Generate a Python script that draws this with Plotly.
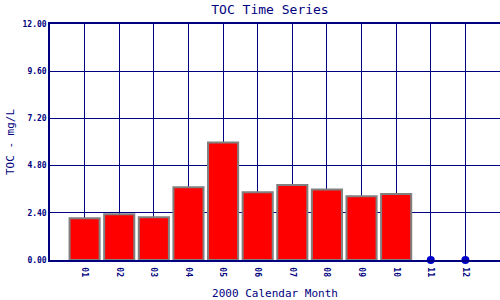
import plotly.graph_objects as go

months = [1, 2, 3, 4, 5, 6, 7, 8, 9, 10]
toc_values = [2.12, 2.32, 2.17, 3.70, 5.98, 3.44, 3.81, 3.59, 3.24, 3.36]
missing_months = [11, 12]
missing_values = [0, 0]
tick_vals = list(range(1, 13))
tick_text = ["01", "02", "03", "04", "05", "06", "07", "08", "09", "10", "11", "12"]
y_ticks = [0, 2.4, 4.8, 7.2, 9.6, 12.0]

navy = "#000080"
fig = go.Figure()
fig.add_trace(go.Bar(
    x=months, y=toc_values, width=0.87,
    marker=dict(color="#FF0000", line=dict(color="#808080", width=2)),
    showlegend=False,
))
fig.add_trace(go.Scatter(
    x=missing_months, y=missing_values, mode="markers",
    marker=dict(color="#0000CC", size=8),
    cliponaxis=False, showlegend=False,
))

fig.update_layout(
    width=500, height=300,
    margin=dict(l=50, r=0, t=24, b=40),
    paper_bgcolor="white", plot_bgcolor="white",
    font=dict(family="DejaVu Sans Mono", color=navy),
    title=dict(text="TOC Time Series", x=0.54, xanchor="center", y=0.985, yanchor="top",
               font=dict(size=13, color=navy, family="DejaVu Sans Mono")),
)
fig.update_xaxes(
    range=[0, 13], tickmode="array", tickvals=tick_vals, ticktext=tick_text,
    tickangle=90, tickfont=dict(size=8, color=navy, family="DejaVu Sans Mono", weight="bold"),
    showgrid=True, gridcolor=navy, gridwidth=1,
    showline=True, linecolor=navy, linewidth=1.5, mirror=True,
    ticks="outside", ticklen=4, tickcolor="rgba(0,0,0,0)",
    title=dict(text="2000 Calendar Month", font=dict(size=11, color=navy), standoff=16),
    fixedrange=True,
)
fig.update_yaxes(
    range=[0, 12], tickmode="array", tickvals=y_ticks,
    tickformat=".2f",
    tickfont=dict(size=8, color=navy, family="DejaVu Sans Mono", weight="bold"),
    showgrid=True, gridcolor=navy, gridwidth=1,
    showline=True, linecolor=navy, linewidth=1.5, mirror=False,
    zeroline=False, ticks="", ticklen=0,
    title=dict(text="TOC - mg/L", font=dict(size=11, color=navy), standoff=6),
    fixedrange=True,
)
fig.write_html("out.html", config={"displayModeBar": False})
